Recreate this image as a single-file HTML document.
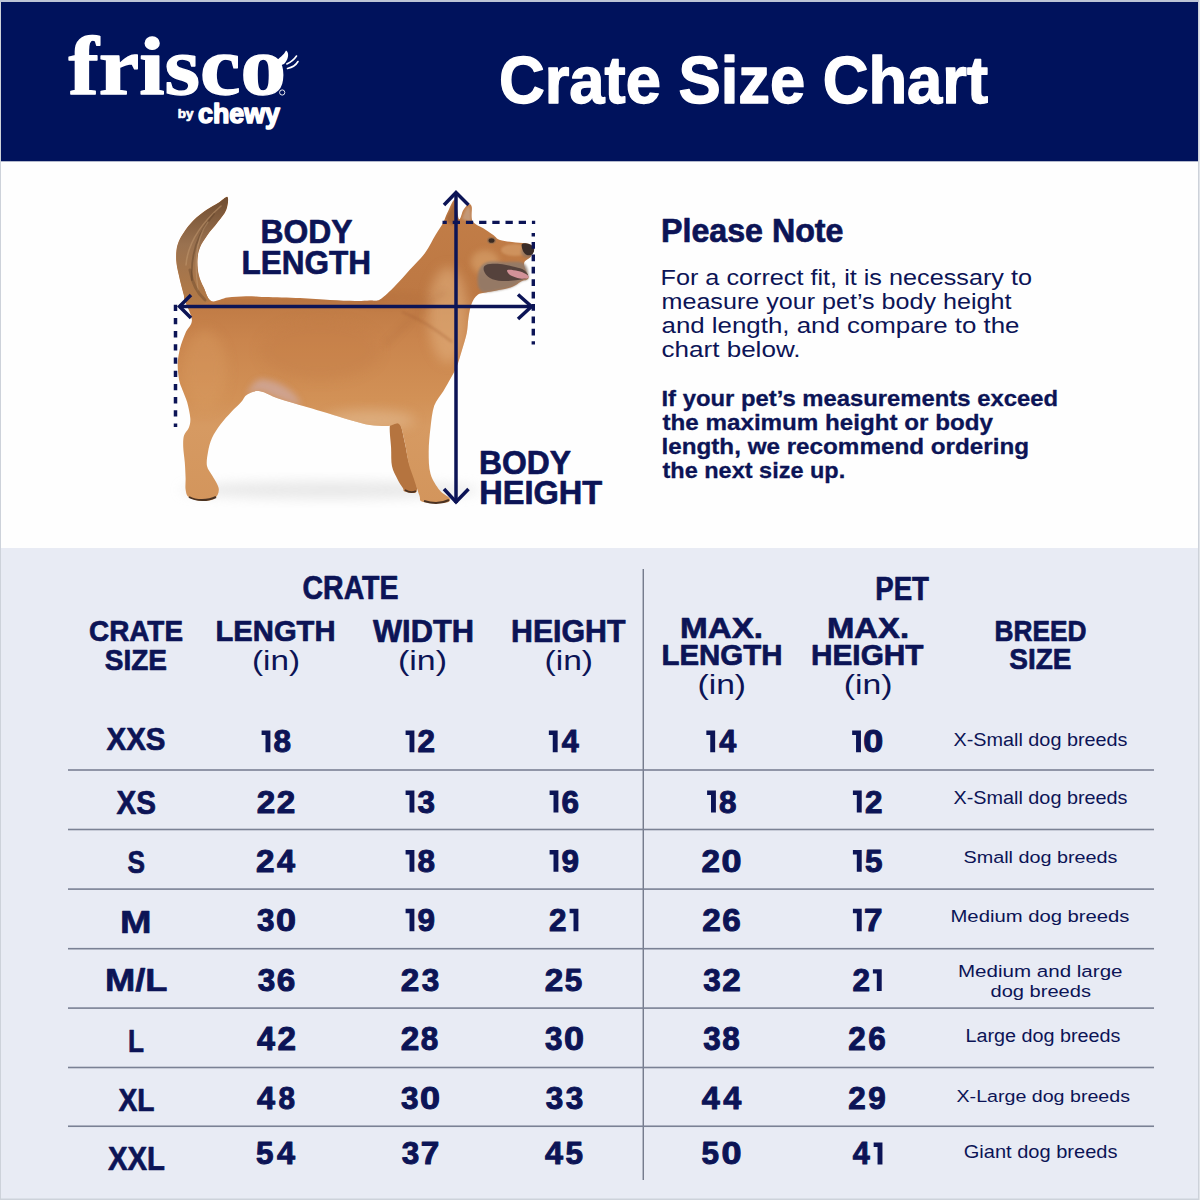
<!DOCTYPE html>
<html><head><meta charset="utf-8"><style>
html,body{margin:0;padding:0;width:1200px;height:1200px;overflow:hidden;background:#fff}
svg{display:block}
</style></head><body>
<svg width="1200" height="1200" viewBox="0 0 1200 1200">
<rect x="0" y="0" width="1200" height="1200" fill="#cdd2da"/>
<rect x="0" y="0" width="1200" height="2" fill="#bcc4d6"/>
<rect x="1199" y="0" width="1" height="1200" fill="#e2e5ea"/>
<rect x="1" y="2" width="1197" height="159.5" fill="#00125c"/>
<rect x="1" y="161.5" width="1197" height="386.5" fill="#fefefe"/>
<rect x="1" y="548" width="1197" height="650.5" fill="#e8ebf4"/>
<defs><linearGradient id="dg" x1="0" y1="0" x2="0" y2="1"><stop offset="0" stop-color="#c27e48"/><stop offset="0.32" stop-color="#bd7843"/><stop offset="0.47" stop-color="#ca854d"/><stop offset="0.66" stop-color="#d29156"/><stop offset="0.75" stop-color="#d69a62"/><stop offset="1" stop-color="#d3955c"/></linearGradient><linearGradient id="tg" x1="0" y1="0" x2="0" y2="1"><stop offset="0" stop-color="#6f4c30"/><stop offset="0.45" stop-color="#9a7250"/><stop offset="1" stop-color="#b47a46"/></linearGradient><filter id="blur6" x="-50%" y="-50%" width="200%" height="200%"><feGaussianBlur stdDeviation="6"/></filter><filter id="blur3" x="-50%" y="-50%" width="200%" height="200%"><feGaussianBlur stdDeviation="3"/></filter><filter id="blur1" x="-50%" y="-50%" width="200%" height="200%"><feGaussianBlur stdDeviation="1"/></filter></defs>
<g id="dog">
<ellipse cx="330" cy="490" rx="150" ry="9" fill="#d8d8d8" opacity="0.55" filter="url(#blur6)"/>
<path d="M390.2,424.0 C388.8,428.3 390.8,440.9 391.1,448.0 C391.4,455.1 390.9,461.1 392.0,466.3 C393.1,471.5 395.7,475.5 397.5,479.2 C399.3,482.9 401.8,486.2 403.0,488.3 C404.2,490.4 402.7,490.8 404.8,491.5 C406.9,492.2 413.9,494.1 415.8,492.5 C417.7,490.9 417.1,487.0 416.0,482.0 C414.9,477.0 410.9,469.3 409.0,462.7 C407.1,456.1 406.4,449.3 404.8,442.5 C403.2,435.7 401.7,425.1 399.3,422.0 C396.9,418.9 391.6,419.7 390.2,424.0 Z" fill="#b5743f"/>
<clipPath id="bclip"><path d="M227.5,196.9 C228.8,198.2 227.9,205.7 226.2,210.0 C224.6,214.3 220.6,218.3 217.5,222.5 C214.4,226.7 210.4,230.8 207.5,235.0 C204.6,239.2 201.7,243.3 200.0,247.5 C198.3,251.7 197.7,255.4 197.5,260.0 C197.3,264.6 197.7,270.4 198.8,275.0 C199.8,279.6 201.7,283.2 203.8,287.5 C205.8,291.8 207.3,299.3 211.2,301.0 C215.2,302.7 221.7,298.3 227.5,297.5 C233.3,296.7 239.8,296.3 246.0,296.2 C252.2,296.1 256.0,296.6 265.0,296.9 C274.0,297.2 289.2,297.5 300.0,298.0 C310.8,298.5 320.8,299.5 330.0,300.0 C339.2,300.5 348.3,300.9 355.0,301.0 C361.7,301.1 365.8,300.8 370.0,300.5 C374.2,300.2 375.8,301.9 380.0,299.5 C384.2,297.1 390.0,291.0 395.0,286.0 C400.0,281.0 405.0,275.0 410.0,269.5 C415.0,264.0 420.8,258.8 425.0,253.0 C429.2,247.2 432.5,240.0 435.5,235.0 C438.5,230.0 441.0,226.8 443.0,223.0 C445.0,219.2 445.5,216.4 447.5,212.5 C449.5,208.6 453.1,198.4 455.0,199.5 C456.9,200.6 457.6,217.2 459.0,219.0 C460.4,220.8 461.8,212.4 463.3,210.0 C464.9,207.6 466.9,205.1 468.3,204.5 C469.7,203.9 471.0,203.9 471.7,206.7 C472.4,209.4 470.6,217.4 472.5,221.0 C474.4,224.6 479.8,226.0 483.3,228.3 C486.8,230.6 490.5,233.1 493.3,235.0 C496.1,236.9 496.3,238.8 500.0,240.0 C503.7,241.2 511.0,241.9 515.7,242.5 C520.5,243.1 525.5,242.7 528.5,243.7 C531.5,244.7 533.6,246.2 534.0,248.3 C534.4,250.4 532.5,254.0 530.8,256.5 C529.1,259.0 524.4,260.0 524.0,263.5 C523.6,267.0 529.0,274.8 528.5,277.8 C528.0,280.8 524.0,279.9 521.0,281.5 C518.0,283.1 516.0,285.8 510.5,287.5 C505.0,289.2 493.5,290.8 488.0,292.0 C482.5,293.2 480.2,293.0 477.5,295.0 C474.8,297.0 473.0,300.2 471.5,304.0 C470.0,307.8 469.3,312.6 468.5,317.5 C467.7,322.4 467.8,327.9 466.7,333.3 C465.6,338.7 463.7,344.4 462.0,350.0 C460.3,355.6 458.6,362.0 456.7,366.7 C454.8,371.4 452.9,374.2 450.7,378.3 C448.5,382.4 446.1,386.6 443.3,391.2 C440.6,395.8 436.3,399.7 434.2,405.8 C432.1,411.9 431.4,420.2 430.5,427.8 C429.6,435.4 428.7,444.1 428.7,451.7 C428.7,459.3 428.7,467.3 430.5,473.7 C432.3,480.1 436.5,486.1 439.7,490.2 C442.9,494.3 448.5,496.3 449.8,498.4 C451.0,500.4 449.6,501.7 447.0,502.5 C444.4,503.3 438.5,503.4 434.2,503.2 C429.9,503.0 423.8,502.4 421.3,501.2 C418.9,499.9 420.7,499.4 419.5,495.7 C418.3,492.0 415.8,484.7 414.0,479.2 C412.2,473.7 410.0,468.8 408.5,462.7 C407.0,456.6 406.3,448.9 404.8,442.5 C403.3,436.1 402.1,426.9 399.3,424.2 C396.6,421.4 393.2,425.9 388.3,426.0 C383.4,426.1 376.1,425.9 370.0,425.0 C363.9,424.1 357.8,422.2 351.7,420.5 C345.6,418.8 340.9,417.3 333.3,415.0 C325.7,412.7 315.0,409.5 305.8,406.8 C296.6,404.0 285.9,401.1 278.3,398.5 C270.7,395.9 265.2,391.9 260.0,391.2 C254.8,390.5 250.5,392.5 247.3,394.4 C244.1,396.2 243.6,399.4 241.0,402.3 C238.4,405.2 234.9,408.1 231.5,411.8 C228.1,415.5 223.7,420.1 220.4,424.5 C217.2,428.9 214.1,433.4 212.0,438.0 C209.9,442.6 208.8,447.3 208.0,452.0 C207.2,456.7 206.2,462.0 207.0,466.0 C207.8,470.0 210.5,472.2 212.5,476.0 C214.5,479.8 218.6,485.2 218.8,489.0 C219.1,492.8 217.2,496.9 214.0,498.9 C210.8,500.9 204.0,501.1 199.8,500.8 C195.6,500.5 191.1,499.2 188.8,497.3 C186.4,495.4 186.1,492.6 185.6,489.4 C185.1,486.2 185.7,482.8 185.6,478.3 C185.5,473.8 185.2,467.8 184.8,462.5 C184.4,457.2 183.3,451.2 183.2,446.7 C183.1,442.2 183.1,438.8 184.0,435.6 C184.9,432.4 187.7,430.6 188.8,427.7 C189.8,424.8 190.6,422.4 190.3,418.2 C190.0,414.0 188.5,407.1 187.2,402.3 C185.9,397.6 183.7,393.4 182.4,389.7 C181.1,386.0 180.0,384.4 179.2,380.2 C178.5,376.0 177.6,369.6 177.7,364.3 C177.8,359.0 178.7,353.8 180.0,348.5 C181.3,343.2 183.6,337.4 185.6,332.7 C187.6,327.9 192.0,325.2 191.9,320.0 C191.8,314.8 186.4,305.4 185.0,301.2 C183.6,297.1 184.8,299.4 183.8,295.0 C182.7,290.6 180.0,280.8 178.8,275.0 C177.5,269.2 176.5,265.0 176.2,260.0 C176.0,255.0 176.2,249.6 177.5,245.0 C178.8,240.4 181.0,236.7 183.8,232.5 C186.5,228.3 190.0,223.8 193.8,220.0 C197.5,216.2 202.1,212.9 206.2,210.0 C210.4,207.1 215.2,204.7 218.8,202.5 C222.3,200.3 226.2,195.7 227.5,196.9 Z"/></clipPath>
<path d="M227.5,196.9 C228.8,198.2 227.9,205.7 226.2,210.0 C224.6,214.3 220.6,218.3 217.5,222.5 C214.4,226.7 210.4,230.8 207.5,235.0 C204.6,239.2 201.7,243.3 200.0,247.5 C198.3,251.7 197.7,255.4 197.5,260.0 C197.3,264.6 197.7,270.4 198.8,275.0 C199.8,279.6 201.7,283.2 203.8,287.5 C205.8,291.8 207.3,299.3 211.2,301.0 C215.2,302.7 221.7,298.3 227.5,297.5 C233.3,296.7 239.8,296.3 246.0,296.2 C252.2,296.1 256.0,296.6 265.0,296.9 C274.0,297.2 289.2,297.5 300.0,298.0 C310.8,298.5 320.8,299.5 330.0,300.0 C339.2,300.5 348.3,300.9 355.0,301.0 C361.7,301.1 365.8,300.8 370.0,300.5 C374.2,300.2 375.8,301.9 380.0,299.5 C384.2,297.1 390.0,291.0 395.0,286.0 C400.0,281.0 405.0,275.0 410.0,269.5 C415.0,264.0 420.8,258.8 425.0,253.0 C429.2,247.2 432.5,240.0 435.5,235.0 C438.5,230.0 441.0,226.8 443.0,223.0 C445.0,219.2 445.5,216.4 447.5,212.5 C449.5,208.6 453.1,198.4 455.0,199.5 C456.9,200.6 457.6,217.2 459.0,219.0 C460.4,220.8 461.8,212.4 463.3,210.0 C464.9,207.6 466.9,205.1 468.3,204.5 C469.7,203.9 471.0,203.9 471.7,206.7 C472.4,209.4 470.6,217.4 472.5,221.0 C474.4,224.6 479.8,226.0 483.3,228.3 C486.8,230.6 490.5,233.1 493.3,235.0 C496.1,236.9 496.3,238.8 500.0,240.0 C503.7,241.2 511.0,241.9 515.7,242.5 C520.5,243.1 525.5,242.7 528.5,243.7 C531.5,244.7 533.6,246.2 534.0,248.3 C534.4,250.4 532.5,254.0 530.8,256.5 C529.1,259.0 524.4,260.0 524.0,263.5 C523.6,267.0 529.0,274.8 528.5,277.8 C528.0,280.8 524.0,279.9 521.0,281.5 C518.0,283.1 516.0,285.8 510.5,287.5 C505.0,289.2 493.5,290.8 488.0,292.0 C482.5,293.2 480.2,293.0 477.5,295.0 C474.8,297.0 473.0,300.2 471.5,304.0 C470.0,307.8 469.3,312.6 468.5,317.5 C467.7,322.4 467.8,327.9 466.7,333.3 C465.6,338.7 463.7,344.4 462.0,350.0 C460.3,355.6 458.6,362.0 456.7,366.7 C454.8,371.4 452.9,374.2 450.7,378.3 C448.5,382.4 446.1,386.6 443.3,391.2 C440.6,395.8 436.3,399.7 434.2,405.8 C432.1,411.9 431.4,420.2 430.5,427.8 C429.6,435.4 428.7,444.1 428.7,451.7 C428.7,459.3 428.7,467.3 430.5,473.7 C432.3,480.1 436.5,486.1 439.7,490.2 C442.9,494.3 448.5,496.3 449.8,498.4 C451.0,500.4 449.6,501.7 447.0,502.5 C444.4,503.3 438.5,503.4 434.2,503.2 C429.9,503.0 423.8,502.4 421.3,501.2 C418.9,499.9 420.7,499.4 419.5,495.7 C418.3,492.0 415.8,484.7 414.0,479.2 C412.2,473.7 410.0,468.8 408.5,462.7 C407.0,456.6 406.3,448.9 404.8,442.5 C403.3,436.1 402.1,426.9 399.3,424.2 C396.6,421.4 393.2,425.9 388.3,426.0 C383.4,426.1 376.1,425.9 370.0,425.0 C363.9,424.1 357.8,422.2 351.7,420.5 C345.6,418.8 340.9,417.3 333.3,415.0 C325.7,412.7 315.0,409.5 305.8,406.8 C296.6,404.0 285.9,401.1 278.3,398.5 C270.7,395.9 265.2,391.9 260.0,391.2 C254.8,390.5 250.5,392.5 247.3,394.4 C244.1,396.2 243.6,399.4 241.0,402.3 C238.4,405.2 234.9,408.1 231.5,411.8 C228.1,415.5 223.7,420.1 220.4,424.5 C217.2,428.9 214.1,433.4 212.0,438.0 C209.9,442.6 208.8,447.3 208.0,452.0 C207.2,456.7 206.2,462.0 207.0,466.0 C207.8,470.0 210.5,472.2 212.5,476.0 C214.5,479.8 218.6,485.2 218.8,489.0 C219.1,492.8 217.2,496.9 214.0,498.9 C210.8,500.9 204.0,501.1 199.8,500.8 C195.6,500.5 191.1,499.2 188.8,497.3 C186.4,495.4 186.1,492.6 185.6,489.4 C185.1,486.2 185.7,482.8 185.6,478.3 C185.5,473.8 185.2,467.8 184.8,462.5 C184.4,457.2 183.3,451.2 183.2,446.7 C183.1,442.2 183.1,438.8 184.0,435.6 C184.9,432.4 187.7,430.6 188.8,427.7 C189.8,424.8 190.6,422.4 190.3,418.2 C190.0,414.0 188.5,407.1 187.2,402.3 C185.9,397.6 183.7,393.4 182.4,389.7 C181.1,386.0 180.0,384.4 179.2,380.2 C178.5,376.0 177.6,369.6 177.7,364.3 C177.8,359.0 178.7,353.8 180.0,348.5 C181.3,343.2 183.6,337.4 185.6,332.7 C187.6,327.9 192.0,325.2 191.9,320.0 C191.8,314.8 186.4,305.4 185.0,301.2 C183.6,297.1 184.8,299.4 183.8,295.0 C182.7,290.6 180.0,280.8 178.8,275.0 C177.5,269.2 176.5,265.0 176.2,260.0 C176.0,255.0 176.2,249.6 177.5,245.0 C178.8,240.4 181.0,236.7 183.8,232.5 C186.5,228.3 190.0,223.8 193.8,220.0 C197.5,216.2 202.1,212.9 206.2,210.0 C210.4,207.1 215.2,204.7 218.8,202.5 C222.3,200.3 226.2,195.7 227.5,196.9 Z" fill="url(#dg)"/>
<g clip-path="url(#bclip)">
<clipPath id="tclip"><path d="M227.5,196.9 C228.8,198.2 227.9,205.7 226.2,210.0 C224.6,214.3 220.6,218.3 217.5,222.5 C214.4,226.7 210.4,230.8 207.5,235.0 C204.6,239.2 201.7,243.3 200.0,247.5 C198.3,251.7 197.7,255.4 197.5,260.0 C197.3,264.6 197.7,270.4 198.8,275.0 C199.8,279.6 201.7,283.3 203.8,287.5 C205.8,291.7 212.0,297.2 211.0,300.0 C210.0,302.8 202.3,303.8 198.0,304.0 C193.7,304.2 187.4,302.8 185.0,301.2 C182.6,299.8 184.8,299.4 183.8,295.0 C182.7,290.6 180.0,280.8 178.8,275.0 C177.5,269.2 176.5,265.0 176.2,260.0 C176.0,255.0 176.2,249.6 177.5,245.0 C178.8,240.4 181.0,236.7 183.8,232.5 C186.5,228.3 190.0,223.8 193.8,220.0 C197.5,216.2 202.1,212.9 206.2,210.0 C210.4,207.1 215.2,204.7 218.8,202.5 C222.3,200.3 226.2,195.7 227.5,196.9 Z"/></clipPath>
<path d="M227.5,196.9 C228.8,198.2 227.9,205.7 226.2,210.0 C224.6,214.3 220.6,218.3 217.5,222.5 C214.4,226.7 210.4,230.8 207.5,235.0 C204.6,239.2 201.7,243.3 200.0,247.5 C198.3,251.7 197.7,255.4 197.5,260.0 C197.3,264.6 197.7,270.4 198.8,275.0 C199.8,279.6 201.7,283.3 203.8,287.5 C205.8,291.7 212.0,297.2 211.0,300.0 C210.0,302.8 202.3,303.8 198.0,304.0 C193.7,304.2 187.4,302.8 185.0,301.2 C182.6,299.8 184.8,299.4 183.8,295.0 C182.7,290.6 180.0,280.8 178.8,275.0 C177.5,269.2 176.5,265.0 176.2,260.0 C176.0,255.0 176.2,249.6 177.5,245.0 C178.8,240.4 181.0,236.7 183.8,232.5 C186.5,228.3 190.0,223.8 193.8,220.0 C197.5,216.2 202.1,212.9 206.2,210.0 C210.4,207.1 215.2,204.7 218.8,202.5 C222.3,200.3 226.2,195.7 227.5,196.9 Z" fill="url(#tg)"/>
<g clip-path="url(#tclip)" fill="none" stroke-linecap="round"><path d="M221,206 C205,220 188,240 186,265" stroke="#c49a70" stroke-width="1.6" opacity="0.5"/><path d="M214,214 C200,230 190,252 192,280" stroke="#5e4028" stroke-width="1.8" opacity="0.45"/><path d="M208,222 C196,238 194,262 198,290" stroke="#c8a078" stroke-width="1.3" opacity="0.45"/><path d="M190,270 C192,282 196,292 205,300" stroke="#5a3c26" stroke-width="3" opacity="0.35"/></g>
<ellipse cx="448" cy="315" rx="20" ry="48" fill="#e4b482" opacity="0.55" filter="url(#blur6)"/>
<ellipse cx="320" cy="350" rx="60" ry="30" fill="#c27c46" opacity="0.35" filter="url(#blur6)"/>
<path d="M402,312 C418,318 434,328 452,342" stroke="#a86438" stroke-width="2.5" fill="none" opacity="0.35" filter="url(#blur1)"/>
<ellipse cx="205" cy="370" rx="22" ry="40" fill="#d99c62" opacity="0.4" filter="url(#blur6)"/>
<ellipse cx="370" cy="420" rx="45" ry="10" fill="#e2b98f" opacity="0.6" filter="url(#blur6)"/>
<path d="M247.3,394.4 C247.6,396.3 254.8,390.5 260.0,391.2 C265.2,391.9 271.6,396.2 278.3,398.5 C285.0,400.8 297.7,406.1 300.0,405.0 C302.3,403.9 296.2,395.8 292.0,392.0 C287.8,388.2 280.7,384.0 275.0,382.0 C269.3,380.0 262.6,377.9 258.0,380.0 C253.4,382.1 247.0,392.5 247.3,394.4 Z" fill="#cfa595" opacity="0.9" filter="url(#blur3)"/>
<path d="M385,345 C405,325 425,305 445,292" stroke="#a8653a" stroke-width="4" fill="none" opacity="0.25" filter="url(#blur3)"/>
<path d="M215,305 C260,300 330,302 380,302" stroke="#a86a3c" stroke-width="6" fill="none" opacity="0.35" filter="url(#blur3)"/>
<ellipse cx="485" cy="262" rx="14" ry="12" fill="#dca872" opacity="0.55" filter="url(#blur3)"/>
<ellipse cx="515" cy="250" rx="14" ry="6" fill="#d9a26e" opacity="0.6" filter="url(#blur1)"/>
<ellipse cx="528" cy="252" rx="7" ry="6" fill="#8a7262" opacity="0.7" filter="url(#blur1)"/>
<path d="M446,218 C449,212 452,206 455,201 L458,222 C454,226 449,226 446,218 Z" fill="#9a5e34" opacity="0.7" filter="url(#blur1)"/>
<path d="M462,219 C464,212 467,207 469,206 C471,210 471,216 471,222 Z" fill="#c4a48c" opacity="0.7" filter="url(#blur1)"/>
<ellipse cx="390" cy="300" rx="40" ry="6" fill="#b06c3a" opacity="0.3" filter="url(#blur3)"/>
</g>
<path d="M524.0,263.5 C527.9,266.1 529.0,274.8 528.5,277.8 C528.0,280.8 524.0,279.9 521.0,281.5 C518.0,283.1 516.0,285.8 510.5,287.5 C505.0,289.2 493.1,291.6 488.0,292.0 C482.9,292.4 481.8,292.0 480.0,290.0 C478.2,288.0 477.5,283.7 477.5,280.0 C477.5,276.3 478.2,271.0 480.0,268.0 C481.8,265.0 483.8,263.0 488.0,262.0 C492.2,261.0 499.0,261.8 505.0,262.0 C511.0,262.2 520.1,260.9 524.0,263.5 Z" fill="#8c7a6e" opacity="0.8" filter="url(#blur1)"/>
<path d="M486.0,265.0 C488.7,263.8 495.2,263.7 500.0,264.0 C504.8,264.3 511.0,266.0 515.0,267.0 C519.0,268.0 521.8,268.3 524.0,270.0 C526.2,271.7 529.0,275.3 528.0,277.0 C527.0,278.7 522.3,279.3 518.0,280.0 C513.7,280.7 506.7,281.3 502.0,281.0 C497.3,280.7 493.0,279.7 490.0,278.0 C487.0,276.3 484.7,273.2 484.0,271.0 C483.3,268.8 483.3,266.2 486.0,265.0 Z" fill="#55423c"/>
<path d="M507.5,270.0 C508.8,269.3 514.9,270.3 518.0,271.0 C521.1,271.7 524.2,272.9 526.0,274.0 C527.8,275.1 529.5,277.0 528.5,277.8 C527.5,278.5 523.1,279.0 520.0,278.5 C516.9,278.0 512.1,276.4 510.0,275.0 C507.9,273.6 506.2,270.7 507.5,270.0 Z" fill="#d39298"/>
<path d="M522.0,244.0 C523.0,242.8 527.0,243.3 529.0,244.0 C531.0,244.7 533.4,246.6 534.0,248.3 C534.6,250.0 533.7,252.9 532.5,254.0 C531.3,255.1 528.6,255.5 527.0,255.0 C525.4,254.5 523.8,252.8 523.0,251.0 C522.2,249.2 521.0,245.2 522.0,244.0 Z" fill="#3a2c28"/>
<ellipse cx="491.5" cy="240.5" rx="4.5" ry="3.4" fill="#8a6a50" opacity="0.6"/><ellipse cx="491.5" cy="240.5" rx="3" ry="2.3" fill="#3a2a22"/>
<path d="M189,497 C196,501 208,501 216,497" stroke="#4a3222" stroke-width="2" fill="none"/>
<path d="M424,501 C432,503.5 442,503.5 449,500" stroke="#4a3222" stroke-width="2" fill="none"/>
<path d="M405,490 C409,492.5 413,492.5 416,491" stroke="#4a3222" stroke-width="1.6" fill="none"/>
</g>

<g stroke="#0c1456" fill="none" stroke-linecap="butt">
 <line x1="179" y1="306.5" x2="533" y2="306.5" stroke-width="3.5"/>
 <polyline points="191,295 179.5,306.5 191,318" stroke-width="3.5"/>
 <polyline points="518,294.5 531.5,306.5 518,319" stroke-width="3.5"/>
 <line x1="456" y1="192" x2="456" y2="503" stroke-width="3.5"/>
 <polyline points="444,205 456,192.5 468.5,205" stroke-width="3.5"/>
 <polyline points="444,489 456,502 468.5,489" stroke-width="3.5"/>
 <line x1="442.5" y1="222.4" x2="535.2" y2="222.4" stroke-width="3.3" stroke-dasharray="7.3 5.9" stroke-dashoffset="3.0"/>
 <line x1="533.3" y1="233" x2="533.3" y2="344.4" stroke-width="3.4" stroke-dasharray="6.75 5.65" stroke-dashoffset="3.35"/>
 <line x1="175.5" y1="304.7" x2="175.5" y2="427" stroke-width="3.5" stroke-dasharray="6.3 6.9"/>
</g>
<rect x="642.6" y="569" width="1.3" height="611" fill="#6a7182"/>
<rect x="68" y="769.20" width="1086" height="1.6" fill="#7a8194"/>
<rect x="68" y="828.70" width="1086" height="1.6" fill="#7a8194"/>
<rect x="68" y="888.30" width="1086" height="1.6" fill="#7a8194"/>
<rect x="68" y="947.90" width="1086" height="1.6" fill="#7a8194"/>
<rect x="68" y="1007.30" width="1086" height="1.6" fill="#7a8194"/>
<rect x="68" y="1066.70" width="1086" height="1.6" fill="#7a8194"/>
<rect x="68" y="1125.45" width="1086" height="1.6" fill="#7a8194"/>

<g fill="none" stroke="#fff" stroke-width="1.6" stroke-linecap="round">
 <path d="M286.8,64 C291,62 294.5,59 296.5,56"/>
 <path d="M287.5,68.5 C292,67.5 296,65 298,61.5"/>
</g>
<path d="M275,62 C279,58 284,55 286,50.5 C289,52 289,58 285,63 C282,66 278,66 275,62 Z" fill="#fff"/>
<circle cx="282.2" cy="92.5" r="2.6" fill="none" stroke="#fff" stroke-width="0.9"/>

<text id="title" x="499.00" y="103.00" font-family='"Liberation Sans"' font-weight="700" font-size="66.13" textLength="489.00" lengthAdjust="spacingAndGlyphs" fill="#ffffff" stroke="#ffffff" stroke-width="1.40" stroke-linejoin="round">Crate Size Chart</text>
<text id="frisco" x="68.50" y="93.75" font-family='"Liberation Serif"' font-weight="700" font-size="83.36" textLength="217.50" lengthAdjust="spacingAndGlyphs" fill="#ffffff" stroke="#ffffff" stroke-width="1.40" stroke-linejoin="round">frisco</text>
<text id="by" x="177.75" y="117.80" font-family='"Liberation Sans"' font-weight="700" font-size="13.10" textLength="15.75" lengthAdjust="spacingAndGlyphs" fill="#ffffff" stroke="#ffffff" stroke-width="0.70" stroke-linejoin="round">by</text>
<text id="chewy" x="198.00" y="123.40" font-family='"Liberation Sans"' font-weight="700" font-size="27.98" textLength="82.00" lengthAdjust="spacingAndGlyphs" fill="#ffffff" stroke="#ffffff" stroke-width="1.60" stroke-linejoin="round">chewy</text>
<text id="bl1" x="260.50" y="243.10" font-family='"Liberation Sans"' font-weight="700" font-size="33.58" textLength="92.00" lengthAdjust="spacingAndGlyphs" fill="#0c1456" stroke="#0c1456" stroke-width="0.70" stroke-linejoin="round">BODY</text>
<text id="bl2" x="241.50" y="273.75" font-family='"Liberation Sans"' font-weight="700" font-size="33.65" textLength="129.50" lengthAdjust="spacingAndGlyphs" fill="#0c1456" stroke="#0c1456" stroke-width="0.70" stroke-linejoin="round">LENGTH</text>
<text id="bh1" x="479.00" y="473.75" font-family='"Liberation Sans"' font-weight="700" font-size="33.65" textLength="92.00" lengthAdjust="spacingAndGlyphs" fill="#0c1456" stroke="#0c1456" stroke-width="0.70" stroke-linejoin="round">BODY</text>
<text id="bh2" x="479.25" y="504.40" font-family='"Liberation Sans"' font-weight="700" font-size="33.65" textLength="123.00" lengthAdjust="spacingAndGlyphs" fill="#0c1456" stroke="#0c1456" stroke-width="0.70" stroke-linejoin="round">HEIGHT</text>
<text id="pn" x="661.00" y="241.75" font-family='"Liberation Sans"' font-weight="700" font-size="33.07" textLength="182.50" lengthAdjust="spacingAndGlyphs" fill="#0c1456" stroke="#0c1456" stroke-width="0.70" stroke-linejoin="round">Please Note</text>
<text id="p1_0" x="660.50" y="284.90" font-family='"Liberation Sans"' font-weight="400" font-size="21.50" textLength="371.50" lengthAdjust="spacingAndGlyphs" fill="#0c1456">For a correct fit, it is necessary to</text>
<text id="p1_1" x="661.50" y="309.10" font-family='"Liberation Sans"' font-weight="400" font-size="21.50" textLength="350.00" lengthAdjust="spacingAndGlyphs" fill="#0c1456">measure your pet’s body height</text>
<text id="p1_2" x="661.50" y="333.25" font-family='"Liberation Sans"' font-weight="400" font-size="21.50" textLength="358.00" lengthAdjust="spacingAndGlyphs" fill="#0c1456">and length, and compare to the</text>
<text id="p1_3" x="661.50" y="357.40" font-family='"Liberation Sans"' font-weight="400" font-size="21.50" textLength="139.00" lengthAdjust="spacingAndGlyphs" fill="#0c1456">chart below.</text>
<text id="p2_0" x="661.50" y="405.80" font-family='"Liberation Sans"' font-weight="700" font-size="21.50" textLength="396.50" lengthAdjust="spacingAndGlyphs" fill="#0c1456" stroke="#0c1456" stroke-width="0.30" stroke-linejoin="round">If your pet’s measurements exceed</text>
<text id="p2_1" x="662.50" y="429.60" font-family='"Liberation Sans"' font-weight="700" font-size="21.50" textLength="330.50" lengthAdjust="spacingAndGlyphs" fill="#0c1456" stroke="#0c1456" stroke-width="0.30" stroke-linejoin="round">the maximum height or body</text>
<text id="p2_2" x="661.50" y="454.20" font-family='"Liberation Sans"' font-weight="700" font-size="21.50" textLength="367.50" lengthAdjust="spacingAndGlyphs" fill="#0c1456" stroke="#0c1456" stroke-width="0.30" stroke-linejoin="round">length, we recommend ordering</text>
<text id="p2_3" x="662.50" y="478.30" font-family='"Liberation Sans"' font-weight="700" font-size="21.50" textLength="182.75" lengthAdjust="spacingAndGlyphs" fill="#0c1456" stroke="#0c1456" stroke-width="0.30" stroke-linejoin="round">the next size up.</text>
<text id="hcrate" x="302.50" y="599.20" font-family='"Liberation Sans"' font-weight="700" font-size="33.28" textLength="96.00" lengthAdjust="spacingAndGlyphs" fill="#0c1456" stroke="#0c1456" stroke-width="0.70" stroke-linejoin="round">CRATE</text>
<text id="hpet" x="875.25" y="600.10" font-family='"Liberation Sans"' font-weight="700" font-size="33.58" textLength="53.75" lengthAdjust="spacingAndGlyphs" fill="#0c1456" stroke="#0c1456" stroke-width="0.70" stroke-linejoin="round">PET</text>
<text id="h1a" x="89.00" y="641.25" font-family='"Liberation Sans"' font-weight="700" font-size="29.80" textLength="94.00" lengthAdjust="spacingAndGlyphs" fill="#0c1456" stroke="#0c1456" stroke-width="0.70" stroke-linejoin="round">CRATE</text>
<text id="h1b" x="104.75" y="669.50" font-family='"Liberation Sans"' font-weight="700" font-size="30.16" textLength="62.25" lengthAdjust="spacingAndGlyphs" fill="#0c1456" stroke="#0c1456" stroke-width="0.70" stroke-linejoin="round">SIZE</text>
<text id="h2a" x="215.50" y="641.25" font-family='"Liberation Sans"' font-weight="700" font-size="29.80" textLength="120.00" lengthAdjust="spacingAndGlyphs" fill="#0c1456" stroke="#0c1456" stroke-width="0.70" stroke-linejoin="round">LENGTH</text>
<text id="h2b" x="252.00" y="669.50" font-family='"Liberation Sans"' font-weight="400" font-size="28.00" textLength="48.00" lengthAdjust="spacingAndGlyphs" fill="#0c1456">(in)</text>
<text id="h3a" x="373.00" y="641.50" font-family='"Liberation Sans"' font-weight="700" font-size="30.52" textLength="101.00" lengthAdjust="spacingAndGlyphs" fill="#0c1456" stroke="#0c1456" stroke-width="0.70" stroke-linejoin="round">WIDTH</text>
<text id="h3b" x="398.00" y="669.50" font-family='"Liberation Sans"' font-weight="400" font-size="28.00" textLength="49.00" lengthAdjust="spacingAndGlyphs" fill="#0c1456">(in)</text>
<text id="h4a" x="511.00" y="641.50" font-family='"Liberation Sans"' font-weight="700" font-size="30.52" textLength="114.50" lengthAdjust="spacingAndGlyphs" fill="#0c1456" stroke="#0c1456" stroke-width="0.70" stroke-linejoin="round">HEIGHT</text>
<text id="h4b" x="544.50" y="669.50" font-family='"Liberation Sans"' font-weight="400" font-size="28.00" textLength="48.50" lengthAdjust="spacingAndGlyphs" fill="#0c1456">(in)</text>
<text id="h5a" x="680.00" y="637.50" font-family='"Liberation Sans"' font-weight="700" font-size="29.94" textLength="83.00" lengthAdjust="spacingAndGlyphs" fill="#0c1456" stroke="#0c1456" stroke-width="0.70" stroke-linejoin="round">MAX.</text>
<text id="h5b" x="661.50" y="665.25" font-family='"Liberation Sans"' font-weight="700" font-size="29.87" textLength="121.00" lengthAdjust="spacingAndGlyphs" fill="#0c1456" stroke="#0c1456" stroke-width="0.70" stroke-linejoin="round">LENGTH</text>
<text id="h5c" x="697.50" y="693.80" font-family='"Liberation Sans"' font-weight="400" font-size="28.00" textLength="48.50" lengthAdjust="spacingAndGlyphs" fill="#0c1456">(in)</text>
<text id="h6a" x="827.00" y="637.50" font-family='"Liberation Sans"' font-weight="700" font-size="29.94" textLength="82.00" lengthAdjust="spacingAndGlyphs" fill="#0c1456" stroke="#0c1456" stroke-width="0.70" stroke-linejoin="round">MAX.</text>
<text id="h6b" x="811.00" y="665.25" font-family='"Liberation Sans"' font-weight="700" font-size="29.87" textLength="112.50" lengthAdjust="spacingAndGlyphs" fill="#0c1456" stroke="#0c1456" stroke-width="0.70" stroke-linejoin="round">HEIGHT</text>
<text id="h6c" x="843.75" y="693.80" font-family='"Liberation Sans"' font-weight="400" font-size="28.00" textLength="48.75" lengthAdjust="spacingAndGlyphs" fill="#0c1456">(in)</text>
<text id="h7a" x="994.50" y="641.10" font-family='"Liberation Sans"' font-weight="700" font-size="29.51" textLength="92.00" lengthAdjust="spacingAndGlyphs" fill="#0c1456" stroke="#0c1456" stroke-width="0.70" stroke-linejoin="round">BREED</text>
<text id="h7b" x="1009.25" y="669.40" font-family='"Liberation Sans"' font-weight="700" font-size="29.94" textLength="62.25" lengthAdjust="spacingAndGlyphs" fill="#0c1456" stroke="#0c1456" stroke-width="0.70" stroke-linejoin="round">SIZE</text>
<text id="sz0" x="106.50" y="750.00" font-family='"Liberation Sans"' font-weight="700" font-size="31.54" textLength="59.00" lengthAdjust="spacingAndGlyphs" fill="#0c1456" stroke="#0c1456" stroke-width="0.70" stroke-linejoin="round">XXS</text>
<text id="sz1" x="116.50" y="813.50" font-family='"Liberation Sans"' font-weight="700" font-size="32.34" textLength="39.50" lengthAdjust="spacingAndGlyphs" fill="#0c1456" stroke="#0c1456" stroke-width="0.70" stroke-linejoin="round">XS</text>
<text id="sz2" x="127.50" y="873.00" font-family='"Liberation Sans"' font-weight="700" font-size="31.54" textLength="17.50" lengthAdjust="spacingAndGlyphs" fill="#0c1456" stroke="#0c1456" stroke-width="0.70" stroke-linejoin="round">S</text>
<text id="sz3" x="120.00" y="932.70" font-family='"Liberation Sans"' font-weight="700" font-size="32.27" textLength="31.50" lengthAdjust="spacingAndGlyphs" fill="#0c1456" stroke="#0c1456" stroke-width="0.70" stroke-linejoin="round">M</text>
<text id="sz4" x="105.00" y="991.00" font-family='"Liberation Sans"' font-weight="700" font-size="32.27" textLength="62.50" lengthAdjust="spacingAndGlyphs" fill="#0c1456" stroke="#0c1456" stroke-width="0.70" stroke-linejoin="round">M/L</text>
<text id="sz5" x="128.00" y="1051.70" font-family='"Liberation Sans"' font-weight="700" font-size="32.27" textLength="16.00" lengthAdjust="spacingAndGlyphs" fill="#0c1456" stroke="#0c1456" stroke-width="0.70" stroke-linejoin="round">L</text>
<text id="sz6" x="118.50" y="1111.20" font-family='"Liberation Sans"' font-weight="700" font-size="32.27" textLength="36.00" lengthAdjust="spacingAndGlyphs" fill="#0c1456" stroke="#0c1456" stroke-width="0.70" stroke-linejoin="round">XL</text>
<text id="sz7" x="108.00" y="1170.00" font-family='"Liberation Sans"' font-weight="700" font-size="32.99" textLength="57.00" lengthAdjust="spacingAndGlyphs" fill="#0c1456" stroke="#0c1456" stroke-width="0.70" stroke-linejoin="round">XXL</text>
<text id="n0_0_1" x="273.50" y="752.20" font-family='"Liberation Sans"' font-weight="700" font-size="30.86" textLength="17.50" lengthAdjust="spacingAndGlyphs" fill="#0c1456" stroke="#0c1456" stroke-width="1.00" stroke-linejoin="round">8</text>
<text id="n0_1_1" x="417.50" y="752.20" font-family='"Liberation Sans"' font-weight="700" font-size="30.86" textLength="17.50" lengthAdjust="spacingAndGlyphs" fill="#0c1456" stroke="#0c1456" stroke-width="1.00" stroke-linejoin="round">2</text>
<text id="n0_2_1" x="561.75" y="752.20" font-family='"Liberation Sans"' font-weight="700" font-size="30.86" textLength="17.00" lengthAdjust="spacingAndGlyphs" fill="#0c1456" stroke="#0c1456" stroke-width="1.00" stroke-linejoin="round">4</text>
<text id="n0_3_1" x="719.25" y="752.20" font-family='"Liberation Sans"' font-weight="700" font-size="30.86" textLength="17.00" lengthAdjust="spacingAndGlyphs" fill="#0c1456" stroke="#0c1456" stroke-width="1.00" stroke-linejoin="round">4</text>
<text id="n0_4_1" x="863.25" y="752.20" font-family='"Liberation Sans"' font-weight="700" font-size="30.86" textLength="20.00" lengthAdjust="spacingAndGlyphs" fill="#0c1456" stroke="#0c1456" stroke-width="1.00" stroke-linejoin="round">0</text>
<text id="n1_0_0" x="256.75" y="812.60" font-family='"Liberation Sans"' font-weight="700" font-size="31.57" textLength="18.50" lengthAdjust="spacingAndGlyphs" fill="#0c1456" stroke="#0c1456" stroke-width="1.00" stroke-linejoin="round">2</text>
<text id="n1_0_1" x="276.75" y="812.60" font-family='"Liberation Sans"' font-weight="700" font-size="31.57" textLength="18.50" lengthAdjust="spacingAndGlyphs" fill="#0c1456" stroke="#0c1456" stroke-width="1.00" stroke-linejoin="round">2</text>
<text id="n1_1_1" x="417.50" y="812.60" font-family='"Liberation Sans"' font-weight="700" font-size="31.57" textLength="17.50" lengthAdjust="spacingAndGlyphs" fill="#0c1456" stroke="#0c1456" stroke-width="1.00" stroke-linejoin="round">3</text>
<text id="n1_2_1" x="561.50" y="812.60" font-family='"Liberation Sans"' font-weight="700" font-size="31.57" textLength="17.50" lengthAdjust="spacingAndGlyphs" fill="#0c1456" stroke="#0c1456" stroke-width="1.00" stroke-linejoin="round">6</text>
<text id="n1_3_1" x="719.00" y="812.60" font-family='"Liberation Sans"' font-weight="700" font-size="31.57" textLength="17.50" lengthAdjust="spacingAndGlyphs" fill="#0c1456" stroke="#0c1456" stroke-width="1.00" stroke-linejoin="round">8</text>
<text id="n1_4_1" x="865.00" y="812.60" font-family='"Liberation Sans"' font-weight="700" font-size="31.57" textLength="17.50" lengthAdjust="spacingAndGlyphs" fill="#0c1456" stroke="#0c1456" stroke-width="1.00" stroke-linejoin="round">2</text>
<text id="n2_0_0" x="256.00" y="871.80" font-family='"Liberation Sans"' font-weight="700" font-size="31.00" textLength="18.50" lengthAdjust="spacingAndGlyphs" fill="#0c1456" stroke="#0c1456" stroke-width="1.00" stroke-linejoin="round">2</text>
<text id="n2_0_1" x="277.00" y="871.80" font-family='"Liberation Sans"' font-weight="700" font-size="31.00" textLength="18.00" lengthAdjust="spacingAndGlyphs" fill="#0c1456" stroke="#0c1456" stroke-width="1.00" stroke-linejoin="round">4</text>
<text id="n2_1_1" x="417.50" y="871.80" font-family='"Liberation Sans"' font-weight="700" font-size="31.00" textLength="17.50" lengthAdjust="spacingAndGlyphs" fill="#0c1456" stroke="#0c1456" stroke-width="1.00" stroke-linejoin="round">8</text>
<text id="n2_2_1" x="561.50" y="871.80" font-family='"Liberation Sans"' font-weight="700" font-size="31.00" textLength="17.50" lengthAdjust="spacingAndGlyphs" fill="#0c1456" stroke="#0c1456" stroke-width="1.00" stroke-linejoin="round">9</text>
<text id="n2_3_0" x="701.50" y="871.80" font-family='"Liberation Sans"' font-weight="700" font-size="31.00" textLength="18.50" lengthAdjust="spacingAndGlyphs" fill="#0c1456" stroke="#0c1456" stroke-width="1.00" stroke-linejoin="round">2</text>
<text id="n2_3_1" x="721.50" y="871.80" font-family='"Liberation Sans"' font-weight="700" font-size="31.00" textLength="20.00" lengthAdjust="spacingAndGlyphs" fill="#0c1456" stroke="#0c1456" stroke-width="1.00" stroke-linejoin="round">0</text>
<text id="n2_4_1" x="865.00" y="871.80" font-family='"Liberation Sans"' font-weight="700" font-size="31.00" textLength="17.50" lengthAdjust="spacingAndGlyphs" fill="#0c1456" stroke="#0c1456" stroke-width="1.00" stroke-linejoin="round">5</text>
<text id="n3_0_0" x="257.00" y="931.30" font-family='"Liberation Sans"' font-weight="700" font-size="32.14" textLength="17.50" lengthAdjust="spacingAndGlyphs" fill="#0c1456" stroke="#0c1456" stroke-width="1.00" stroke-linejoin="round">3</text>
<text id="n3_0_1" x="276.00" y="931.30" font-family='"Liberation Sans"' font-weight="700" font-size="32.14" textLength="20.00" lengthAdjust="spacingAndGlyphs" fill="#0c1456" stroke="#0c1456" stroke-width="1.00" stroke-linejoin="round">0</text>
<text id="n3_1_1" x="417.50" y="931.30" font-family='"Liberation Sans"' font-weight="700" font-size="32.14" textLength="17.50" lengthAdjust="spacingAndGlyphs" fill="#0c1456" stroke="#0c1456" stroke-width="1.00" stroke-linejoin="round">9</text>
<text id="n3_2_0" x="549.00" y="931.30" font-family='"Liberation Sans"' font-weight="700" font-size="32.14" textLength="17.50" lengthAdjust="spacingAndGlyphs" fill="#0c1456" stroke="#0c1456" stroke-width="1.00" stroke-linejoin="round">2</text>
<text id="n3_3_0" x="702.25" y="931.30" font-family='"Liberation Sans"' font-weight="700" font-size="32.14" textLength="18.50" lengthAdjust="spacingAndGlyphs" fill="#0c1456" stroke="#0c1456" stroke-width="1.00" stroke-linejoin="round">2</text>
<text id="n3_3_1" x="722.25" y="931.30" font-family='"Liberation Sans"' font-weight="700" font-size="32.14" textLength="18.50" lengthAdjust="spacingAndGlyphs" fill="#0c1456" stroke="#0c1456" stroke-width="1.00" stroke-linejoin="round">6</text>
<text id="n3_4_1" x="864.00" y="931.30" font-family='"Liberation Sans"' font-weight="700" font-size="32.14" textLength="18.50" lengthAdjust="spacingAndGlyphs" fill="#0c1456" stroke="#0c1456" stroke-width="1.00" stroke-linejoin="round">7</text>
<text id="n4_0_0" x="257.75" y="990.90" font-family='"Liberation Sans"' font-weight="700" font-size="31.00" textLength="17.50" lengthAdjust="spacingAndGlyphs" fill="#0c1456" stroke="#0c1456" stroke-width="1.00" stroke-linejoin="round">3</text>
<text id="n4_0_1" x="276.75" y="990.90" font-family='"Liberation Sans"' font-weight="700" font-size="31.00" textLength="18.50" lengthAdjust="spacingAndGlyphs" fill="#0c1456" stroke="#0c1456" stroke-width="1.00" stroke-linejoin="round">6</text>
<text id="n4_1_0" x="400.75" y="990.90" font-family='"Liberation Sans"' font-weight="700" font-size="31.00" textLength="18.50" lengthAdjust="spacingAndGlyphs" fill="#0c1456" stroke="#0c1456" stroke-width="1.00" stroke-linejoin="round">2</text>
<text id="n4_1_1" x="421.75" y="990.90" font-family='"Liberation Sans"' font-weight="700" font-size="31.00" textLength="17.50" lengthAdjust="spacingAndGlyphs" fill="#0c1456" stroke="#0c1456" stroke-width="1.00" stroke-linejoin="round">3</text>
<text id="n4_2_0" x="544.75" y="990.90" font-family='"Liberation Sans"' font-weight="700" font-size="31.00" textLength="18.50" lengthAdjust="spacingAndGlyphs" fill="#0c1456" stroke="#0c1456" stroke-width="1.00" stroke-linejoin="round">2</text>
<text id="n4_2_1" x="564.75" y="990.90" font-family='"Liberation Sans"' font-weight="700" font-size="31.00" textLength="17.50" lengthAdjust="spacingAndGlyphs" fill="#0c1456" stroke="#0c1456" stroke-width="1.00" stroke-linejoin="round">5</text>
<text id="n4_3_0" x="703.25" y="990.90" font-family='"Liberation Sans"' font-weight="700" font-size="31.00" textLength="17.50" lengthAdjust="spacingAndGlyphs" fill="#0c1456" stroke="#0c1456" stroke-width="1.00" stroke-linejoin="round">3</text>
<text id="n4_3_1" x="722.25" y="990.90" font-family='"Liberation Sans"' font-weight="700" font-size="31.00" textLength="18.50" lengthAdjust="spacingAndGlyphs" fill="#0c1456" stroke="#0c1456" stroke-width="1.00" stroke-linejoin="round">2</text>
<text id="n4_4_0" x="852.50" y="990.90" font-family='"Liberation Sans"' font-weight="700" font-size="31.00" textLength="17.50" lengthAdjust="spacingAndGlyphs" fill="#0c1456" stroke="#0c1456" stroke-width="1.00" stroke-linejoin="round">2</text>
<text id="n5_0_0" x="257.00" y="1050.30" font-family='"Liberation Sans"' font-weight="700" font-size="32.43" textLength="18.00" lengthAdjust="spacingAndGlyphs" fill="#0c1456" stroke="#0c1456" stroke-width="1.00" stroke-linejoin="round">4</text>
<text id="n5_0_1" x="277.50" y="1050.30" font-family='"Liberation Sans"' font-weight="700" font-size="32.43" textLength="18.50" lengthAdjust="spacingAndGlyphs" fill="#0c1456" stroke="#0c1456" stroke-width="1.00" stroke-linejoin="round">2</text>
<text id="n5_1_0" x="400.75" y="1050.30" font-family='"Liberation Sans"' font-weight="700" font-size="32.43" textLength="18.50" lengthAdjust="spacingAndGlyphs" fill="#0c1456" stroke="#0c1456" stroke-width="1.00" stroke-linejoin="round">2</text>
<text id="n5_1_1" x="420.75" y="1050.30" font-family='"Liberation Sans"' font-weight="700" font-size="32.43" textLength="17.50" lengthAdjust="spacingAndGlyphs" fill="#0c1456" stroke="#0c1456" stroke-width="1.00" stroke-linejoin="round">8</text>
<text id="n5_2_0" x="545.00" y="1050.30" font-family='"Liberation Sans"' font-weight="700" font-size="32.43" textLength="17.50" lengthAdjust="spacingAndGlyphs" fill="#0c1456" stroke="#0c1456" stroke-width="1.00" stroke-linejoin="round">3</text>
<text id="n5_2_1" x="564.00" y="1050.30" font-family='"Liberation Sans"' font-weight="700" font-size="32.43" textLength="20.00" lengthAdjust="spacingAndGlyphs" fill="#0c1456" stroke="#0c1456" stroke-width="1.00" stroke-linejoin="round">0</text>
<text id="n5_3_0" x="703.25" y="1050.30" font-family='"Liberation Sans"' font-weight="700" font-size="32.43" textLength="17.50" lengthAdjust="spacingAndGlyphs" fill="#0c1456" stroke="#0c1456" stroke-width="1.00" stroke-linejoin="round">3</text>
<text id="n5_3_1" x="722.25" y="1050.30" font-family='"Liberation Sans"' font-weight="700" font-size="32.43" textLength="17.50" lengthAdjust="spacingAndGlyphs" fill="#0c1456" stroke="#0c1456" stroke-width="1.00" stroke-linejoin="round">8</text>
<text id="n5_4_0" x="848.25" y="1050.30" font-family='"Liberation Sans"' font-weight="700" font-size="32.43" textLength="17.50" lengthAdjust="spacingAndGlyphs" fill="#0c1456" stroke="#0c1456" stroke-width="1.00" stroke-linejoin="round">2</text>
<text id="n5_4_1" x="868.25" y="1050.30" font-family='"Liberation Sans"' font-weight="700" font-size="32.43" textLength="17.50" lengthAdjust="spacingAndGlyphs" fill="#0c1456" stroke="#0c1456" stroke-width="1.00" stroke-linejoin="round">6</text>
<text id="n6_0_0" x="257.00" y="1108.80" font-family='"Liberation Sans"' font-weight="700" font-size="31.14" textLength="18.00" lengthAdjust="spacingAndGlyphs" fill="#0c1456" stroke="#0c1456" stroke-width="1.00" stroke-linejoin="round">4</text>
<text id="n6_0_1" x="278.50" y="1108.80" font-family='"Liberation Sans"' font-weight="700" font-size="31.14" textLength="16.50" lengthAdjust="spacingAndGlyphs" fill="#0c1456" stroke="#0c1456" stroke-width="1.00" stroke-linejoin="round">8</text>
<text id="n6_1_0" x="401.00" y="1108.80" font-family='"Liberation Sans"' font-weight="700" font-size="31.14" textLength="17.50" lengthAdjust="spacingAndGlyphs" fill="#0c1456" stroke="#0c1456" stroke-width="1.00" stroke-linejoin="round">3</text>
<text id="n6_1_1" x="420.00" y="1108.80" font-family='"Liberation Sans"' font-weight="700" font-size="31.14" textLength="20.00" lengthAdjust="spacingAndGlyphs" fill="#0c1456" stroke="#0c1456" stroke-width="1.00" stroke-linejoin="round">0</text>
<text id="n6_2_0" x="545.75" y="1108.80" font-family='"Liberation Sans"' font-weight="700" font-size="31.14" textLength="17.50" lengthAdjust="spacingAndGlyphs" fill="#0c1456" stroke="#0c1456" stroke-width="1.00" stroke-linejoin="round">3</text>
<text id="n6_2_1" x="565.75" y="1108.80" font-family='"Liberation Sans"' font-weight="700" font-size="31.14" textLength="17.50" lengthAdjust="spacingAndGlyphs" fill="#0c1456" stroke="#0c1456" stroke-width="1.00" stroke-linejoin="round">3</text>
<text id="n6_3_0" x="701.75" y="1108.80" font-family='"Liberation Sans"' font-weight="700" font-size="31.14" textLength="18.00" lengthAdjust="spacingAndGlyphs" fill="#0c1456" stroke="#0c1456" stroke-width="1.00" stroke-linejoin="round">4</text>
<text id="n6_3_1" x="723.25" y="1108.80" font-family='"Liberation Sans"' font-weight="700" font-size="31.14" textLength="18.00" lengthAdjust="spacingAndGlyphs" fill="#0c1456" stroke="#0c1456" stroke-width="1.00" stroke-linejoin="round">4</text>
<text id="n6_4_0" x="848.25" y="1108.80" font-family='"Liberation Sans"' font-weight="700" font-size="31.14" textLength="17.50" lengthAdjust="spacingAndGlyphs" fill="#0c1456" stroke="#0c1456" stroke-width="1.00" stroke-linejoin="round">2</text>
<text id="n6_4_1" x="868.25" y="1108.80" font-family='"Liberation Sans"' font-weight="700" font-size="31.14" textLength="17.50" lengthAdjust="spacingAndGlyphs" fill="#0c1456" stroke="#0c1456" stroke-width="1.00" stroke-linejoin="round">9</text>
<text id="n7_0_0" x="256.00" y="1164.40" font-family='"Liberation Sans"' font-weight="700" font-size="31.14" textLength="17.50" lengthAdjust="spacingAndGlyphs" fill="#0c1456" stroke="#0c1456" stroke-width="1.00" stroke-linejoin="round">5</text>
<text id="n7_0_1" x="277.00" y="1164.40" font-family='"Liberation Sans"' font-weight="700" font-size="31.14" textLength="18.00" lengthAdjust="spacingAndGlyphs" fill="#0c1456" stroke="#0c1456" stroke-width="1.00" stroke-linejoin="round">4</text>
<text id="n7_1_0" x="401.75" y="1164.40" font-family='"Liberation Sans"' font-weight="700" font-size="31.14" textLength="17.50" lengthAdjust="spacingAndGlyphs" fill="#0c1456" stroke="#0c1456" stroke-width="1.00" stroke-linejoin="round">3</text>
<text id="n7_1_1" x="420.75" y="1164.40" font-family='"Liberation Sans"' font-weight="700" font-size="31.14" textLength="18.50" lengthAdjust="spacingAndGlyphs" fill="#0c1456" stroke="#0c1456" stroke-width="1.00" stroke-linejoin="round">7</text>
<text id="n7_2_0" x="545.00" y="1164.40" font-family='"Liberation Sans"' font-weight="700" font-size="31.14" textLength="18.00" lengthAdjust="spacingAndGlyphs" fill="#0c1456" stroke="#0c1456" stroke-width="1.00" stroke-linejoin="round">4</text>
<text id="n7_2_1" x="565.50" y="1164.40" font-family='"Liberation Sans"' font-weight="700" font-size="31.14" textLength="17.50" lengthAdjust="spacingAndGlyphs" fill="#0c1456" stroke="#0c1456" stroke-width="1.00" stroke-linejoin="round">5</text>
<text id="n7_3_0" x="701.50" y="1164.40" font-family='"Liberation Sans"' font-weight="700" font-size="31.14" textLength="17.50" lengthAdjust="spacingAndGlyphs" fill="#0c1456" stroke="#0c1456" stroke-width="1.00" stroke-linejoin="round">5</text>
<text id="n7_3_1" x="721.50" y="1164.40" font-family='"Liberation Sans"' font-weight="700" font-size="31.14" textLength="20.00" lengthAdjust="spacingAndGlyphs" fill="#0c1456" stroke="#0c1456" stroke-width="1.00" stroke-linejoin="round">0</text>
<text id="n7_4_0" x="852.75" y="1164.40" font-family='"Liberation Sans"' font-weight="700" font-size="31.14" textLength="17.00" lengthAdjust="spacingAndGlyphs" fill="#0c1456" stroke="#0c1456" stroke-width="1.00" stroke-linejoin="round">4</text>
<text id="br0" x="953.50" y="745.80" font-family='"Liberation Sans"' font-weight="400" font-size="17.86" textLength="174.00" lengthAdjust="spacingAndGlyphs" fill="#0c1456">X-Small dog breeds</text>
<text id="br1" x="953.50" y="804.20" font-family='"Liberation Sans"' font-weight="400" font-size="17.86" textLength="174.00" lengthAdjust="spacingAndGlyphs" fill="#0c1456">X-Small dog breeds</text>
<text id="br2" x="963.50" y="862.50" font-family='"Liberation Sans"' font-weight="400" font-size="16.71" textLength="154.00" lengthAdjust="spacingAndGlyphs" fill="#0c1456">Small dog breeds</text>
<text id="br3" x="950.50" y="921.70" font-family='"Liberation Sans"' font-weight="400" font-size="17.14" textLength="179.00" lengthAdjust="spacingAndGlyphs" fill="#0c1456">Medium dog breeds</text>
<text id="br4" x="958.00" y="976.70" font-family='"Liberation Sans"' font-weight="400" font-size="16.71" textLength="164.50" lengthAdjust="spacingAndGlyphs" fill="#0c1456">Medium and large</text>
<text id="br5" x="990.50" y="996.70" font-family='"Liberation Sans"' font-weight="400" font-size="16.71" textLength="100.50" lengthAdjust="spacingAndGlyphs" fill="#0c1456">dog breeds</text>
<text id="br6" x="965.50" y="1042.10" font-family='"Liberation Sans"' font-weight="400" font-size="17.57" textLength="155.00" lengthAdjust="spacingAndGlyphs" fill="#0c1456">Large dog breeds</text>
<text id="br7" x="956.50" y="1101.70" font-family='"Liberation Sans"' font-weight="400" font-size="17.07" textLength="173.50" lengthAdjust="spacingAndGlyphs" fill="#0c1456">X-Large dog breeds</text>
<text id="br8" x="963.75" y="1158.10" font-family='"Liberation Sans"' font-weight="400" font-size="17.71" textLength="153.75" lengthAdjust="spacingAndGlyphs" fill="#0c1456">Giant dog breeds</text>
<path d="M261.60,730.60 L270.40,730.60 L270.40,752.20 L265.50,752.20 L265.50,735.00 L261.60,735.00 Z" fill="#0c1456"/>
<path d="M405.60,730.60 L414.40,730.60 L414.40,752.20 L409.50,752.20 L409.50,735.00 L405.60,735.00 Z" fill="#0c1456"/>
<path d="M548.85,730.60 L557.65,730.60 L557.65,752.20 L552.75,752.20 L552.75,735.00 L548.85,735.00 Z" fill="#0c1456"/>
<path d="M706.35,730.60 L715.15,730.60 L715.15,752.20 L710.25,752.20 L710.25,735.00 L706.35,735.00 Z" fill="#0c1456"/>
<path d="M852.15,730.60 L860.95,730.60 L860.95,752.20 L856.05,752.20 L856.05,735.00 L852.15,735.00 Z" fill="#0c1456"/>
<path d="M405.60,790.50 L414.40,790.50 L414.40,812.60 L409.50,812.60 L409.50,794.90 L405.60,794.90 Z" fill="#0c1456"/>
<path d="M549.60,790.50 L558.40,790.50 L558.40,812.60 L553.50,812.60 L553.50,794.90 L549.60,794.90 Z" fill="#0c1456"/>
<path d="M707.10,790.50 L715.90,790.50 L715.90,812.60 L711.00,812.60 L711.00,794.90 L707.10,794.90 Z" fill="#0c1456"/>
<path d="M852.90,790.50 L861.70,790.50 L861.70,812.60 L856.80,812.60 L856.80,794.90 L852.90,794.90 Z" fill="#0c1456"/>
<path d="M405.60,850.10 L414.40,850.10 L414.40,871.80 L409.50,871.80 L409.50,854.50 L405.60,854.50 Z" fill="#0c1456"/>
<path d="M549.60,850.10 L558.40,850.10 L558.40,871.80 L553.50,871.80 L553.50,854.50 L549.60,854.50 Z" fill="#0c1456"/>
<path d="M852.90,850.10 L861.70,850.10 L861.70,871.80 L856.80,871.80 L856.80,854.50 L852.90,854.50 Z" fill="#0c1456"/>
<path d="M405.60,908.80 L414.40,908.80 L414.40,931.30 L409.50,931.30 L409.50,913.20 L405.60,913.20 Z" fill="#0c1456"/>
<path d="M569.60,908.80 L578.40,908.80 L578.40,931.30 L573.50,931.30 L573.50,913.20 L569.60,913.20 Z" fill="#0c1456"/>
<path d="M852.90,908.80 L861.70,908.80 L861.70,931.30 L856.80,931.30 L856.80,913.20 L852.90,913.20 Z" fill="#0c1456"/>
<path d="M872.90,969.20 L881.70,969.20 L881.70,990.90 L876.80,990.90 L876.80,973.60 L872.90,973.60 Z" fill="#0c1456"/>
<path d="M873.65,1142.60 L882.45,1142.60 L882.45,1164.40 L877.55,1164.40 L877.55,1147.00 L873.65,1147.00 Z" fill="#0c1456"/>
</svg>
</body></html>
